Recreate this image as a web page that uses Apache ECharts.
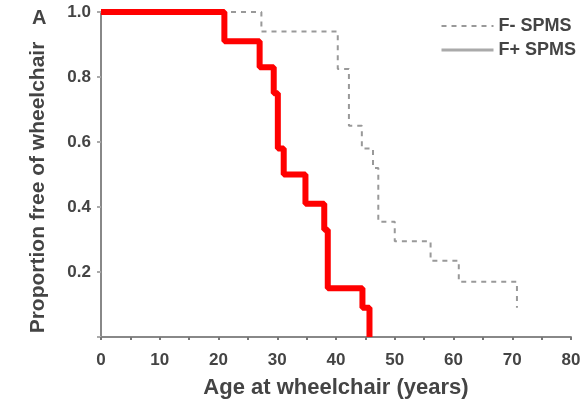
<!DOCTYPE html>
<html>
<head>
<meta charset="utf-8">
<script src="https://cdn.jsdelivr.net/npm/echarts@6/dist/echarts.min.js"></script>
<style>
html,body{margin:0;padding:0;background:#fff;}
#chart{width:584px;height:404px;}
</style>
</head>
<body>
<div id="chart"></div>
<script>
// Kaplan-Meier step data (age at event, proportion after event)
var fMinusAges = [0, 27.3, 40.3, 42.2, 44.4, 46.3, 47.2, 50.0, 56.1, 60.9, 70.8];
var fMinusProp = [1.0, 0.94, 0.825, 0.65, 0.58, 0.52, 0.355, 0.295, 0.235, 0.17, 0.09];
var fPlusAges = [0, 21.0, 27.0, 29.4, 30.1, 31.1, 34.8, 38.0, 38.6, 44.5, 45.7];
var fPlusProp = [1.0, 0.91, 0.83, 0.75, 0.58, 0.50, 0.41, 0.33, 0.15, 0.09, 0.0];
var seriesNames = ['F- SPMS', 'F+ SPMS'];
var xTicks = [0, 10, 20, 30, 40, 50, 60, 70, 80];
var yTickLabels = ['', '0.2', '0.4', '0.6', '0.8', '1.0'];

function pairs(xs, ys){ return xs.map(function(x, i){ return [x, ys[i]]; }); }

var font = 'Liberation Sans, Arial, sans-serif';
var chart = echarts.init(document.getElementById('chart'));
chart.setOption({
  animation: false,
  backgroundColor: '#fff',
  grid: { left: 101, right: 13, top: 12, bottom: 60 },
  legend: {
    orient: 'vertical',
    left: 435,
    top: 12,
    itemWidth: 52,
    itemHeight: 14,
    itemGap: 6,
    itemStyle: { opacity: 0 },
    textStyle: { fontFamily: font, fontSize: 18, fontWeight: 'bold', color: '#444' },
    data: [
      { name: seriesNames[0] },
      { name: seriesNames[1], lineStyle: { color: '#aaa', width: 3, type: 'solid' } }
    ]
  },
  xAxis: {
    type: 'value', min: xTicks[0], max: xTicks[xTicks.length - 1], interval: 10,
    name: 'Age at wheelchair (years)', nameLocation: 'middle', nameGap: 40,
    nameTextStyle: { fontFamily: font, fontSize: 22, fontWeight: 'bold', color: '#444' },
    axisLine: { lineStyle: { color: '#888', width: 2 } },
    axisTick: { show: true, length: 3, lineStyle: { color: '#777', width: 2 } },
    minorTick: { show: true, splitNumber: 2, length: 3, lineStyle: { color: '#777', width: 2 } },
    axisLabel: { fontFamily: font, fontSize: 17, fontWeight: 'bold', color: '#444', margin: 15 },
    splitLine: { show: false }
  },
  yAxis: {
    type: 'value', min: 0, max: 1, interval: 0.2,
    name: 'Proportion free of wheelchair', nameLocation: 'middle', nameGap: 52,
    nameTextStyle: { fontFamily: font, fontSize: 21, fontWeight: 'bold', color: '#444', padding: [0, 26, 0, 0] },
    axisLine: { show: true, lineStyle: { color: '#888', width: 2 } },
    axisTick: { show: true, length: 4, lineStyle: { color: '#aaa', width: 2 } },
    axisLabel: {
      fontFamily: font, fontSize: 17, fontWeight: 'bold', color: '#444', margin: 10,
      formatter: function(v){ return yTickLabels[Math.round(v / 0.2)]; }
    },
    splitLine: { show: false }
  },
  graphic: [
    { type: 'text', left: 32, top: 8, style: { text: 'A', font: 'bold 20px ' + font, fill: '#444' } }
  ],
  series: [
    {
      name: seriesNames[0], type: 'line', step: 'end', symbol: 'none',
      data: pairs(fMinusAges, fMinusProp),
      lineStyle: { color: '#999', width: 2, type: [5, 5] },
      itemStyle: { color: '#999' }, z: 2
    },
    {
      name: seriesNames[1], type: 'line', step: 'end', symbol: 'none',
      data: pairs(fPlusAges, fPlusProp),
      lineStyle: { color: '#ff0000', width: 6 },
      itemStyle: { color: '#ff0000' }, z: 3
    }
  ]
});
</script>
</body>
</html>
